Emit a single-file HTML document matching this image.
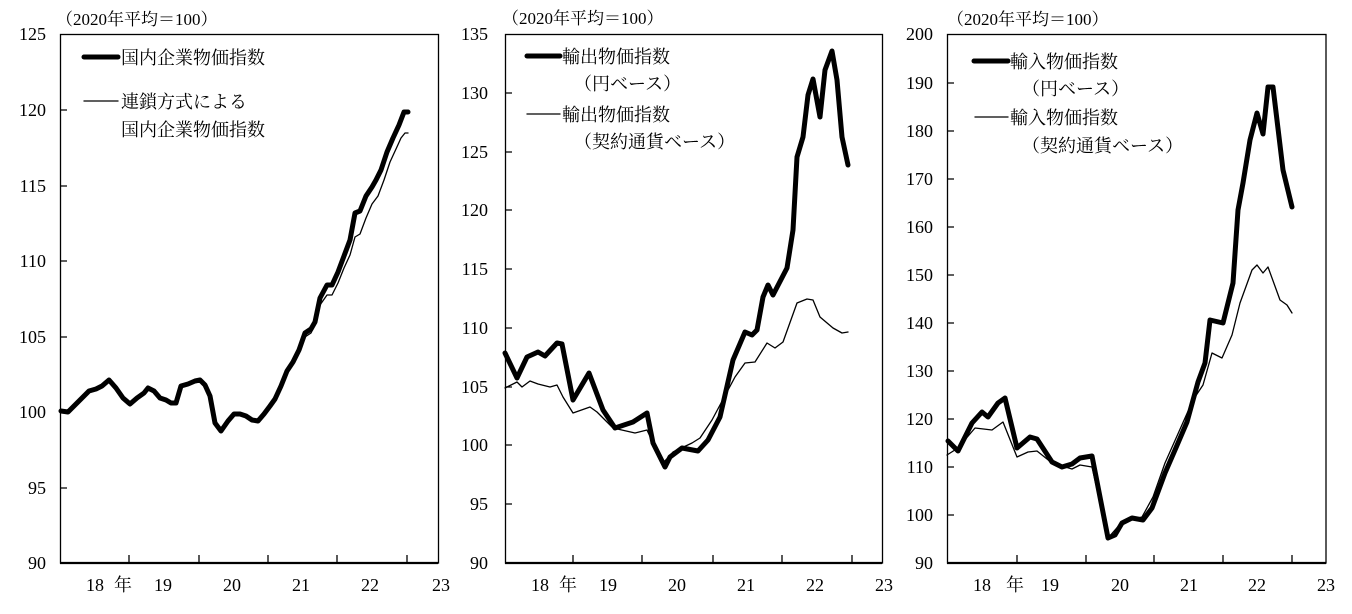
<!DOCTYPE html>
<html><head><meta charset="utf-8"><style>
body{margin:0;background:#fff}
svg{display:block}
text{font-family:"Liberation Serif","Noto Serif CJK SC",serif;fill:#000}
.t{font-size:18px}
.h{font-size:17px}
.l{font-size:18px}
</style></head><body>
<svg width="1352" height="614" viewBox="0 0 1352 614">
<g fill="none" stroke="#000">
<rect x="60.5" y="34.5" width="378" height="528.5" stroke-width="1.3"/>
<rect x="505.5" y="34.5" width="377" height="528.5" stroke-width="1.3"/>
<rect x="947.5" y="34.5" width="378.5" height="528.5" stroke-width="1.3"/>
<line x1="60" y1="563" x2="438" y2="563" stroke-width="2.2"/>
<line x1="505" y1="563" x2="882" y2="563" stroke-width="2.2"/>
<line x1="947" y1="563" x2="1326" y2="563" stroke-width="2.2"/>
<path stroke-width="1.3" d="M129 563v-8M199 563v-8M268 563v-8M337 563v-8M407 563v-8
M573 563v-8M642 563v-8M713 563v-8M782 563v-8M852 563v-8
M1017 563v-8M1086 563v-8M1154 563v-8M1223 563v-8M1292 563v-8
M60 110h7M60 186h7M60 261h7M60 337h7M60 412h7M60 488h7
M505 93h7M505 152h7M505 210h7M505 269h7M505 328h7M505 387h7M505 445h7M505 504h7
M947 83h7M947 131h7M947 179h7M947 227h7M947 275h7M947 323h7M947 371h7M947 419h7M947 467h7M947 515h7"/>
</g>
<g stroke="#000" fill="none" stroke-linejoin="round" stroke-linecap="round">
<polyline stroke-width="1.3" points="61,411 68,412 75,405 82,398 89,392 96,390 102,387 109,381 116,389 123,398 130,404 137,398 144,393 148,389 154,391 160,398 166,400 171,403 176,403 181,387 188,385 195,382 200,380 205,385 210,396 215,423 221,431 228,421 234,414 240,414 246,416 252,420 258,421 264,414 270,406 275,399 281,386 287,371 293,362 299,352 305,337 311,333 315,325 320,305 327,295 332,295 338,283 344,268 350,255 355,237 360,234 366,218 372,204 378,196 384,180 390,162 396,149 401,138 405,133 408,133"/>
<polyline stroke-width="5" points="61,411 68,412 75,405 82,398 89,391 96,389 102,386 109,380 116,388 123,398 130,404 137,398 144,393 148,388 154,391 160,398 166,400 171,403 176,403 181,386 188,384 195,381 200,380 205,385 210,396 215,423 221,431 228,421 234,414 240,414 246,416 252,420 258,421 264,414 270,406 275,399 281,386 287,371 293,362 299,350 305,333 311,329 315,322 320,298 327,285 332,285 338,272 344,256 350,240 355,213 360,211 366,196 372,187 376,180 381,170 387,152 393,138 399,125 404,112 408,112"/>
<polyline stroke-width="1.3" points="505,388 517,382 522,387 530,381 538,384 550,387 557,385 563,397 573,413 590,407 597,412 613,428 635,433 647,430 653,443 663,463 673,452 692,443 700,438 712,420 735,377 745,363 755,362 767,343 775,348 783,342 797,303 807,299 813,300 820,317 833,328 842,333 848,332"/>
<polyline stroke-width="5" points="505,353 517,378 527,357 538,352 545,356 557,343 562,344 573,400 589,373 603,410 615,428 633,422 647,413 653,443 665,467 670,457 682,448 698,451 708,440 720,417 733,360 745,332 752,335 757,330 763,297 768,285 773,295 787,268 793,230 797,157 803,137 808,95 813,79 820,117 825,70 832,51 837,80 842,137 848,165"/>
<polyline stroke-width="1.3" points="947,455 958,448 975,428 992,430 1003,422 1017,457 1028,452 1037,451 1052,463 1072,469 1080,465 1092,467 1108,538 1122,522 1142,517 1153,497 1165,463 1193,400 1203,385 1212,353 1222,358 1232,335 1240,303 1252,270 1257,265 1263,273 1268,267 1280,300 1287,305 1292,313"/>
<polyline stroke-width="5" points="948,441 958,451 972,423 982,412 988,417 998,403 1005,398 1017,448 1030,437 1037,439 1052,462 1062,467 1072,464 1080,458 1092,456 1108,538 1115,535 1122,523 1132,518 1143,520 1152,508 1165,473 1175,450 1187,422 1198,382 1205,363 1210,320 1223,323 1233,283 1238,210 1243,183 1250,140 1257,113 1263,134 1268,87 1273,87 1283,170 1292,207"/>
<line x1="84" y1="57" x2="118" y2="57" stroke-width="5"/>
<line x1="84" y1="101" x2="118" y2="101" stroke-width="1.3"/>
<line x1="527" y1="56" x2="560" y2="56" stroke-width="5"/>
<line x1="527" y1="114" x2="560" y2="114" stroke-width="1.3"/>
<line x1="974" y1="61" x2="1008" y2="61" stroke-width="5"/>
<line x1="975" y1="117" x2="1008" y2="117" stroke-width="1.3"/>
</g>
<g class="l">
<text x="121" y="64">国内企業物価指数</text>
<text x="121" y="108">連鎖方式による</text>
<text x="121" y="136">国内企業物価指数</text>
<text x="562" y="63">輸出物価指数</text>
<text x="574" y="90">（円ベース）</text>
<text x="562" y="121">輸出物価指数</text>
<text x="574" y="148">（契約通貨ベース）</text>
<text x="1010" y="68">輸入物価指数</text>
<text x="1022" y="95">（円ベース）</text>
<text x="1010" y="124">輸入物価指数</text>
<text x="1022" y="152">（契約通貨ベース）</text>
</g>
<g class="h">
<text x="56" y="25">（2020年平均＝100）</text>
<text x="502" y="24">（2020年平均＝100）</text>
<text x="947" y="25">（2020年平均＝100）</text>
</g>
<g class="t" text-anchor="end">
<text x="46" y="40">125</text><text x="46" y="116">120</text><text x="46" y="192">115</text><text x="46" y="267">110</text><text x="46" y="343">105</text><text x="46" y="418">100</text><text x="46" y="494">95</text><text x="46" y="569">90</text>
<text x="488" y="40">135</text><text x="488" y="99">130</text><text x="488" y="158">125</text><text x="488" y="216">120</text><text x="488" y="275">115</text><text x="488" y="334">110</text><text x="488" y="393">105</text><text x="488" y="451">100</text><text x="488" y="510">95</text><text x="488" y="569">90</text>
<text x="933" y="40">200</text><text x="933" y="89">190</text><text x="933" y="137">180</text><text x="933" y="185">170</text><text x="933" y="233">160</text><text x="933" y="281">150</text><text x="933" y="329">140</text><text x="933" y="377">130</text><text x="933" y="425">120</text><text x="933" y="473">110</text><text x="933" y="521">100</text><text x="933" y="569">90</text>
</g>
<g class="t" text-anchor="middle">
<text x="95" y="591">18</text><text x="123" y="591">年</text><text x="163" y="591">19</text><text x="232" y="591">20</text><text x="301" y="591">21</text><text x="370" y="591">22</text><text x="441" y="591">23</text>
<text x="540" y="591">18</text><text x="568" y="591">年</text><text x="608" y="591">19</text><text x="677" y="591">20</text><text x="746" y="591">21</text><text x="815" y="591">22</text><text x="884" y="591">23</text>
<text x="982" y="591">18</text><text x="1015" y="591">年</text><text x="1050" y="591">19</text><text x="1120" y="591">20</text><text x="1189" y="591">21</text><text x="1257" y="591">22</text><text x="1326" y="591">23</text>
</g>
</svg>
</body></html>
